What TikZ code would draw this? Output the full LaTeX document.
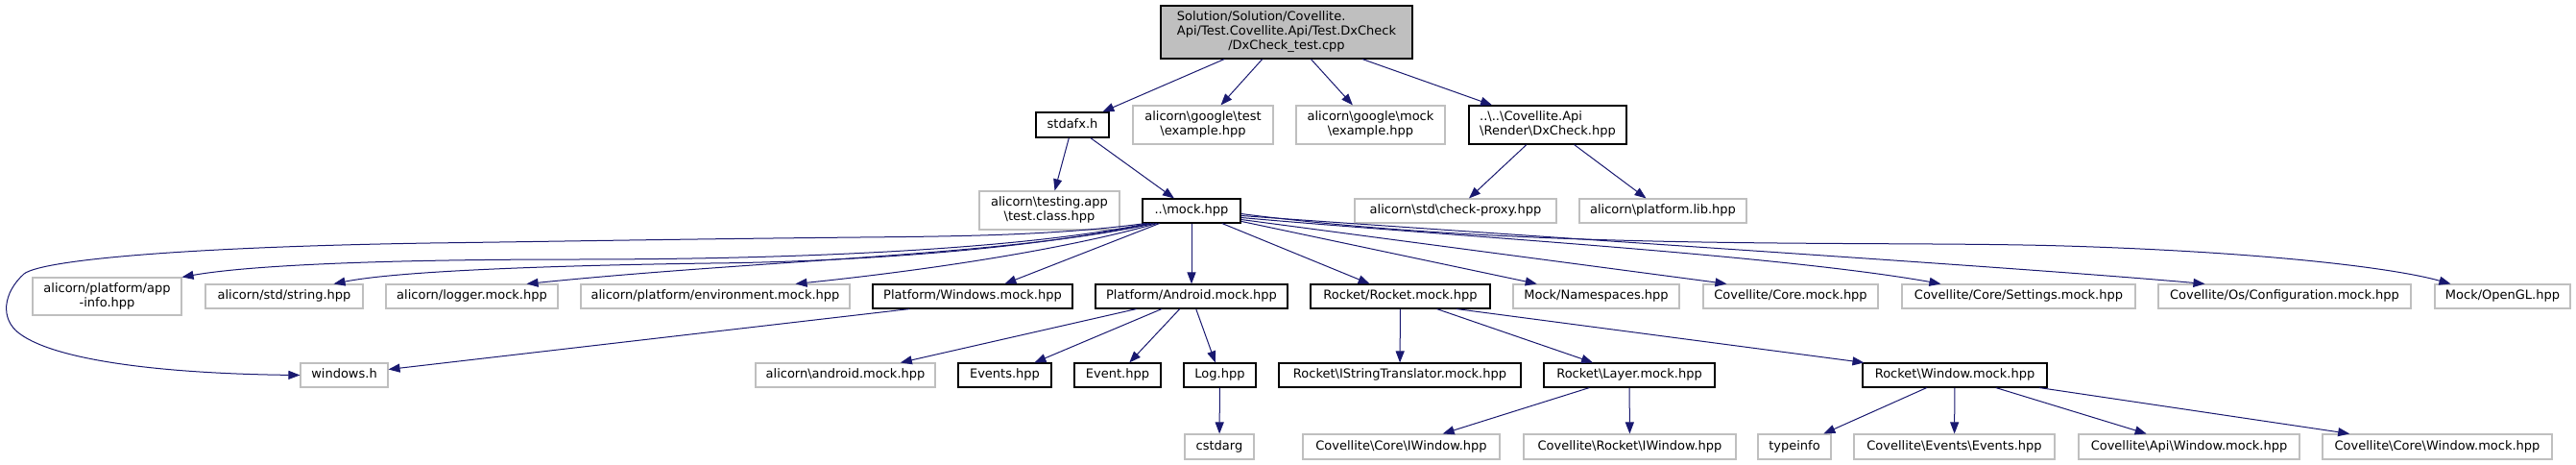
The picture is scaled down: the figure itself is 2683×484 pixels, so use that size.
\documentclass[tikz,border=0pt]{standalone}
\usepackage{fontspec}
\setmainfont{DejaVu Sans}
\usetikzlibrary{arrows.meta,calc}
\definecolor{edgeblue}{HTML}{191970}
\definecolor{greyseventyfive}{HTML}{BFBFBF}
\newcommand\Sx{\rule[-3.25pt]{0pt}{13pt}}
\newcommand\bsl{\textbackslash}
\begin{document}
\begin{tikzpicture}[x=1pt,y=-1pt,font=\fontsize{13}{15}\selectfont,
  basebox/.style={rectangle,inner sep=0pt,line width=1.1pt,execute at begin node=\Sx},
  docbox/.style={basebox,draw=black},
  extbox/.style={basebox,draw=greyseventyfive},
  sz/.style 2 args={minimum width=#1pt,minimum height=#2pt},
  dep/.style={draw=edgeblue,line width=1pt,-{Triangle[length=12pt,width=9pt]}}]
\fill[white] (0,0) rectangle (2683,484);
\useasboundingbox (0,0) rectangle (2683,484);
% row 0
\node[docbox,fill=greyseventyfive,sz={262}{55},execute at begin node={}] (top) at (1340,33.5)
  {\begin{tabular}{@{}l@{}}Solution/Solution/Covellite.\\Api/Test.Covellite.Api/Test.DxCheck\\\multicolumn{1}{@{}c@{}}{/DxCheck\_test.cpp}\end{tabular}};
% row 1
\node[docbox,sz={76}{26}] (stdafx) at (1117,130) {stdafx.h};
\node[extbox,sz={146}{40},align=center] (gtest) at (1253,130) {\Sx alicorn\bsl google\bsl test\\\Sx\bsl example.hpp};
\node[extbox,sz={155}{40},align=center] (gmock) at (1427.5,130) {\Sx alicorn\bsl google\bsl mock\\\Sx\bsl example.hpp};
\node[docbox,sz={164}{40},align=left] (dxcheck) at (1612,130) {\Sx ..\bsl..\bsl Covellite.Api\\\Sx\bsl Render\bsl DxCheck.hpp};
% row 2
\node[extbox,sz={146}{40},align=center] (testapp) at (1093,219) {\Sx alicorn\bsl testing.app\\\Sx\bsl test.class.hpp};
\node[docbox,sz={102}{25}] (mock) at (1241,219.5) {..\bsl mock.hpp};
\node[extbox,sz={210}{25}] (checkproxy) at (1516,219.5) {alicorn\bsl std\bsl check-proxy.hpp};
\node[extbox,sz={174}{25}] (platlib) at (1732,219.5) {alicorn\bsl platform.lib.hpp};
% row 3
\node[extbox,sz={155}{39},align=center] (appinfo) at (111.5,308.5) {\Sx alicorn/platform/app\\\Sx -info.hpp};
\node[extbox,sz={164}{25}] (string) at (296,308.5) {alicorn/std/string.hpp};
\node[extbox,sz={179}{25}] (logger) at (491.5,308.5) {alicorn/logger.mock.hpp};
\node[extbox,sz={280}{25}] (env) at (745,308.5) {alicorn/platform/environment.mock.hpp};
\node[docbox,sz={208}{25}] (winmock) at (1013,308.5) {Platform/Windows.mock.hpp};
\node[docbox,sz={200}{25}] (andmock) at (1241,308.5) {Platform/Android.mock.hpp};
\node[docbox,sz={187}{25}] (rocketmock) at (1458.5,308.5) {Rocket/Rocket.mock.hpp};
\node[extbox,sz={173}{25}] (namespaces) at (1662.5,308.5) {Mock/Namespaces.hpp};
\node[extbox,sz={182}{25}] (coremock) at (1865,308.5) {Covellite/Core.mock.hpp};
\node[extbox,sz={243}{25}] (settings) at (2102.5,308.5) {Covellite/Core/Settings.mock.hpp};
\node[extbox,sz={263}{25}] (config) at (2379.5,308.5) {Covellite/Os/Configuration.mock.hpp};
\node[extbox,sz={141}{25}] (opengl) at (2606.5,308.5) {Mock/OpenGL.hpp};
% row 4
\node[extbox,sz={91}{25}] (winh) at (358.5,390.5) {windows.h};
\node[extbox,sz={187}{25}] (alandroid) at (880.5,390.5) {alicorn\bsl android.mock.hpp};
\node[docbox,sz={97}{25}] (eventsh) at (1046.5,390.5) {Events.hpp};
\node[docbox,sz={90}{25}] (eventh) at (1164,390.5) {Event.hpp};
\node[docbox,sz={75}{25}] (logh) at (1270.5,390.5) {Log.hpp};
\node[docbox,sz={252}{25}] (istring) at (1458,390.5) {Rocket\bsl IStringTranslator.mock.hpp};
\node[docbox,sz={178}{25}] (layer) at (1697,390.5) {Rocket\bsl Layer.mock.hpp};
\node[docbox,sz={192}{25}] (rwinmock) at (2036,390.5) {Rocket\bsl Window.mock.hpp};
% row 5
\node[extbox,sz={72}{26}] (cstdarg) at (1270,465) {cstdarg};
\node[extbox,sz={205}{26}] (coreiwin) at (1459.5,465) {Covellite\bsl Core\bsl IWindow.hpp};
\node[extbox,sz={221}{26}] (rocketiwin) at (1697.5,465) {Covellite\bsl Rocket\bsl IWindow.hpp};
\node[extbox,sz={76}{26}] (typeinfo) at (1869,465) {typeinfo};
\node[extbox,sz={209}{26}] (evevents) at (2035.5,465) {Covellite\bsl Events\bsl Events.hpp};
\node[extbox,sz={230}{26}] (apiwin) at (2280,465) {Covellite\bsl Api\bsl Window.mock.hpp};
\node[extbox,sz={239}{26}] (corewin) at (2538.5,465) {Covellite\bsl Core\bsl Window.mock.hpp};
% edges
\draw[dep] (top) -- (stdafx);
\draw[dep] (top) -- (gtest);
\draw[dep] (top) -- (gmock);
\draw[dep] (top) -- (dxcheck);
\draw[dep] (stdafx) -- (testapp);
\draw[dep] (stdafx) -- (mock);
\draw[dep] (dxcheck) -- (checkproxy);
\draw[dep] (dxcheck) -- (platlib);
% mock.hpp to the left
\draw[dep] ($(mock.south)+(-48,0)$) .. controls (1100,245) and (1000,246) .. (896,247)
  .. controls (700,249) and (600,251) .. (448,253)
  .. controls (200,257) and (45,270) .. (25,285)
  .. controls (3,305) and (0,332) .. (20,347)
  .. controls (60,377) and (180,389) .. (winh.west);
\draw[dep] ($(mock.south)+(-45,0)$) .. controls (1050,262) and (800,270) .. (600,270)
  .. controls (400,270) and (260,276) .. (appinfo.north east);
\draw[dep] ($(mock.south)+(-42,0)$) .. controls (1050,264) and (850,273) .. (740,274)
  .. controls (600,276) and (420,281) .. ($(string.north east)+(-31,0)$);
\draw[dep] ($(mock.south)+(-39,0)$) .. controls (1050,266) and (800,270) .. ($(logger.north east)+(-33,0)$);
\draw[dep] ($(mock.south)+(-36,0)$) .. controls (1100,262) and (950,283) .. ($(env.north east)+(-57,0)$);
\draw[dep] (mock) -- (winmock);
\draw[dep] (mock) -- (andmock);
% mock.hpp to the right
\draw[dep] (mock) -- (rocketmock);
\draw[dep] (mock) -- (namespaces);
\draw[dep] ($(mock.east)+(0,9)$) -- ($(coremock.north west)+(25,0)$);
\draw[dep] ($(mock.east)+(0,7)$) .. controls (1500,245) and (1850,265) .. ($(settings.north west)+(41,0)$);
\draw[dep] ($(mock.east)+(0,5)$) .. controls (1650,250) and (2100,278) .. ($(config.north west)+(49,0)$);
\draw[dep] ($(mock.east)+(0,3)$) .. controls (1600,262) and (1950,250) .. (2150,256)
  .. controls (2350,262) and (2490,278) .. ($(opengl.north west)+(17,0)$);
% lower levels
\draw[dep] ($(winmock.south west)+(39,0)$) -- ($(winh.east)+(0,-6)$);
\draw[dep] (andmock) -- (alandroid);
\draw[dep] (andmock) -- (eventsh);
\draw[dep] (andmock) -- (eventh);
\draw[dep] (andmock) -- (logh);
\draw[dep] (logh) -- (cstdarg);
\draw[dep] (rocketmock) -- (istring);
\draw[dep] (rocketmock) -- (layer);
\draw[dep] ($(rocketmock.south)+(58.5,0)$) -- ($(rwinmock.north west)+(2,0)$);
\draw[dep] (layer) -- (coreiwin);
\draw[dep] (layer) -- (rocketiwin);
\draw[dep] (rwinmock) -- (typeinfo);
\draw[dep] (rwinmock) -- (evevents);
\draw[dep] (rwinmock) -- (apiwin);
\draw[dep] (rwinmock) -- (corewin);
\end{tikzpicture}
\end{document}
